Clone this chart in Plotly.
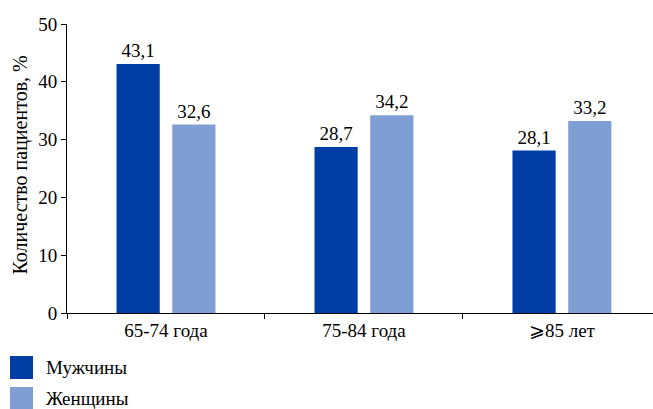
import plotly.graph_objects as go

categories = ["65-74 года", "75-84 года", "⩾85 лет"]
men = [43.1, 28.7, 28.1]
women = [32.6, 34.2, 33.2]
series_names = ["Мужчины", "Женщины"]
colors = ["#003DA5", "#7F9FD4"]
y_title = "Количество пациентов, %"
y_ticks = [0, 10, 20, 30, 40, 50]

FONT = "Liberation Serif"

fig = go.Figure()
for name, vals, col in zip(series_names, [men, women], colors):
    fig.add_trace(go.Bar(
        x=categories, y=vals, name=name, marker_color=col, marker_line_width=0,
        text=[f"{v:.1f}".replace(".", ",") for v in vals],
        textposition="outside", cliponaxis=False,
        textfont=dict(family=FONT, size=19), showlegend=False,
    ))

# manual legend (swatch + label per series)
for i, (name, col) in enumerate(zip(series_names, colors)):
    y0 = 356 + i * 31
    fig.add_shape(type="rect", xref="paper", yref="paper",
                  x0=(10 - 67) / 586, x1=(33 - 67) / 586,
                  y0=(313 - y0) / 289, y1=(313 - y0 - 23) / 289,
                  fillcolor=col, line_width=0)
    fig.add_annotation(xref="paper", yref="paper", x=(44 - 67) / 586,
                       y=(313 - y0 - 11.5) / 289, text=name, showarrow=False,
                       xanchor="left", yanchor="middle",
                       font=dict(family=FONT, size=19))

fig.add_annotation(xref="paper", yref="paper", x=(20.5 - 67) / 586, y=0.512,
                   text=y_title, textangle=-90, showarrow=False,
                   xanchor="center", yanchor="middle",
                   font=dict(family=FONT, size=20))

fig.update_layout(
    width=653, height=409,
    margin=dict(l=67, r=0, t=24, b=96, autoexpand=False),
    font=dict(color="#000000"),
    plot_bgcolor="white", paper_bgcolor="white",
    barmode="group", bargap=0.437, bargroupgap=0.225,
    showlegend=False,
    xaxis=dict(showline=True, linecolor="black", linewidth=1,
               ticks="outside", ticklen=5, tickcolor="black",
               tickson="boundaries", showgrid=False, zeroline=False,
               range=[-0.5, 2.46],
               tickfont=dict(family=FONT, size=19)),
    yaxis=dict(showline=True, linecolor="black", linewidth=1,
               ticks="outside", ticklen=5, tickcolor="black",
               range=[0, 50], tickvals=y_ticks, showgrid=False, zeroline=False,
               tickfont=dict(family=FONT, size=19)),
)
fig.write_html("out.html")
